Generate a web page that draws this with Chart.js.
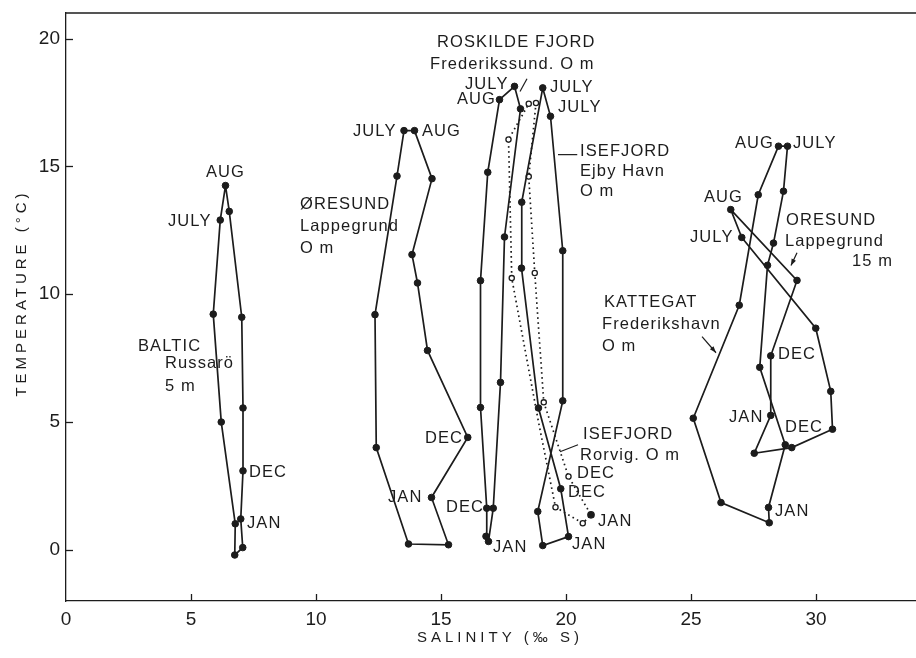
<!DOCTYPE html>
<html>
<head>
<meta charset="utf-8">
<script src="https://cdn.jsdelivr.net/npm/chart.js@4/dist/chart.umd.min.js"></script>
<style>
  html, body { margin: 0; padding: 0; background: #fff; }
  canvas { display: block; }
</style>
</head>
<body>
<canvas id="c" width="916" height="658"></canvas>
<script>
// Annual temperature–salinity cycles at Danish and Baltic stations.
// Each station is traced as a closed path of (salinity ‰, temperature °C) samples.

const balticSal  = [6.38, 6.53, 7.03, 7.08, 7.08, 6.99, 7.07, 6.75, 6.77, 6.21, 5.89, 6.17, 6.38];
const balticTemp = [14.25, 13.24, 9.1, 5.55, 3.09, 1.21, 0.09, -0.2, 1.02, 5.0, 9.22, 12.9, 14.25];

const oresundSal  = [13.52, 13.94, 14.64, 13.84, 14.06, 14.46, 16.07, 14.62, 15.3, 13.7, 12.41, 12.36, 13.24, 13.52];
const oresundTemp = [16.4, 16.4, 14.52, 11.55, 10.44, 7.8, 4.4, 2.05, 0.2, 0.23, 4.0, 9.2, 14.62, 16.4];

const roskildeSal  = [17.34, 17.94, 18.18, 17.54, 17.38, 17.09, 16.9, 16.8, 16.83, 16.58, 16.58, 16.87, 17.34];
const roskildeTemp = [17.61, 18.13, 17.25, 12.24, 6.55, 1.63, 0.33, 0.53, 1.63, 5.57, 10.53, 14.77, 17.61];

const ejbySal  = [19.07, 19.38, 19.87, 19.87, 18.87, 19.07, 20.1, 19.79, 18.9, 18.22, 18.23, 19.07];
const ejbyTemp = [18.07, 16.96, 11.7, 5.83, 1.5, 0.17, 0.52, 2.39, 5.55, 11.02, 13.6, 18.07];

// Rørvig marker kinds: 'o' open circle, 'f' filled dot, '' plain vertex
const rorvigSal    = [18.8, 18.51, 17.7, 17.83, 18.9, 19.58, 20.67, 21.0, 20.1, 19.11, 18.75, 18.51, 18.8];
const rorvigTemp   = [17.48, 17.45, 16.05, 10.63, 5.0, 1.67, 1.04, 1.37, 2.87, 5.77, 10.83, 14.6, 17.48];
const rorvigMarker = ['o', 'o', 'o', 'o', '', 'o', 'o', 'f', 'o', 'o', 'o', 'o', ''];

const kattegatSal  = [28.86, 28.7, 28.3, 28.06, 27.75, 28.77, 28.1, 28.13, 26.2, 25.09, 26.93, 27.69, 28.5, 28.86];
const kattegatTemp = [15.79, 14.03, 12.0, 11.13, 7.14, 4.11, 1.66, 1.06, 1.85, 5.15, 9.57, 13.89, 15.79, 15.79];

const oresund15Sal  = [27.03, 26.59, 29.24, 28.19, 28.19, 27.53, 29.03, 30.66, 30.59, 29.99, 27.03];
const oresund15Temp = [12.22, 13.31, 10.54, 7.59, 5.26, 3.78, 4.0, 4.72, 6.2, 8.67, 12.22];

const xTickValues = [0, 5, 10, 15, 20, 25, 30];
const yTickValues = [0, 5, 10, 15, 20];

const xTitle = 'SALINITY (‰ S)';
const yTitle = 'TEMPERATURE (°C)';

// station names and month tags, anchored in data units (left edge, middle)
const stationLabels = [
  { t: 'AUG', x: 5.6, y: 14.76 }, { t: 'JULY', x: 4.08, y: 12.84 },
  { t: 'BALTIC', x: 2.88, y: 7.95 }, { t: 'Russarö', x: 3.96, y: 7.28 }, { t: '5 m', x: 3.96, y: 6.38 },
  { t: 'DEC', x: 7.32, y: 3.01 }, { t: 'JAN', x: 7.24, y: 1.02 },

  { t: 'JULY', x: 11.48, y: 16.36 }, { t: 'AUG', x: 14.24, y: 16.36 },
  { t: 'ØRESUND', x: 9.36, y: 13.5 }, { t: 'Lappegrund', x: 9.36, y: 12.64 }, { t: 'O m', x: 9.36, y: 11.78 },
  { t: 'DEC', x: 14.36, y: 4.34 }, { t: 'JAN', x: 12.88, y: 2.04 },

  { t: 'ROSKILDE FJORD', x: 14.84, y: 19.84 }, { t: 'Frederikssund. O m', x: 14.56, y: 18.98 },
  { t: 'JULY', x: 15.96, y: 18.2 }, { t: 'AUG', x: 15.64, y: 17.61 },
  { t: 'DEC', x: 15.2, y: 1.64 }, { t: 'JAN', x: 17.08, y: 0.08 },

  { t: 'JULY', x: 19.36, y: 18.08 }, { t: 'JULY', x: 19.68, y: 17.3 },
  { t: 'ISEFJORD', x: 20.56, y: 15.58 }, { t: 'Ejby Havn', x: 20.56, y: 14.79 }, { t: 'O m', x: 20.56, y: 14.01 },
  { t: 'JAN', x: 20.24, y: 0.23 },

  { t: 'ISEFJORD', x: 20.68, y: 4.5 }, { t: 'Rorvig. O m', x: 20.56, y: 3.68 },
  { t: 'DEC', x: 20.44, y: 2.97 }, { t: 'DEC', x: 20.08, y: 2.23 }, { t: 'JAN', x: 21.28, y: 1.1 },

  { t: 'AUG', x: 26.76, y: 15.89 }, { t: 'JULY', x: 29.08, y: 15.89 },
  { t: 'KATTEGAT', x: 21.52, y: 9.67 }, { t: 'Frederikshavn', x: 21.44, y: 8.81 }, { t: 'O m', x: 21.44, y: 7.95 },
  { t: 'DEC', x: 28.48, y: 7.63 }, { t: 'JAN', x: 26.52, y: 5.17 },
  { t: 'DEC', x: 28.76, y: 4.77 }, { t: 'JAN', x: 28.36, y: 1.49 },

  { t: 'AUG', x: 25.52, y: 13.78 }, { t: 'JULY', x: 24.96, y: 12.21 },
  { t: 'ORESUND', x: 28.8, y: 12.88 }, { t: 'Lappegrund', x: 28.76, y: 12.05 }, { t: '15 m', x: 31.44, y: 11.27 }
];

// leader lines from station names to their curves: [x1, y1, x2, y2, arrow]
const leaders = [
  [18.44, 18.43, 18.16, 17.93, false],
  [20.45, 15.46, 19.68, 15.46, false],
  [20.48, 4.11, 19.76, 3.84, false],
  [25.44, 8.34, 26.0, 7.71, true],
  [29.24, 11.62, 29.0, 11.12, true]
];

const ink = '#1c1c1c';
const fontFamily = '"Liberation Sans", Arial, sans-serif';

function toPoints(xs, ys) { return xs.map((v, i) => ({ x: v, y: ys[i] })); }

function stationSet(name, xs, ys, extra) {
  const n = xs.length;
  return Object.assign({
    label: name,
    data: toPoints(xs, ys),
    showLine: true,
    borderColor: ink,
    borderWidth: 1.7,
    pointBackgroundColor: ink,
    pointBorderColor: ink,
    pointBorderWidth: 1,
    pointRadius: xs.map((_, i) => (i === n - 1 ? 0 : 3.3)),
    tension: 0
  }, extra || {});
}

const datasets = [
  stationSet('Baltic, Russarö 5 m', balticSal, balticTemp),
  stationSet('Øresund, Lappegrund 0 m', oresundSal, oresundTemp),
  stationSet('Roskilde Fjord, Frederikssund 0 m', roskildeSal, roskildeTemp),
  stationSet('Isefjord, Ejby Havn 0 m', ejbySal, ejbyTemp),
  stationSet('Isefjord, Rørvig 0 m', rorvigSal, rorvigTemp, {
    borderDash: [1.6, 3.4],
    borderWidth: 1.7,
    pointBackgroundColor: rorvigMarker.map(m => (m === 'f' ? ink : '#fff')),
    pointBorderWidth: 1.3,
    pointRadius: rorvigMarker.map(m => (m === 'f' ? 3.2 : m === 'o' ? 2.6 : 0))
  }),
  stationSet('Kattegat, Frederikshavn 0 m', kattegatSal, kattegatTemp),
  stationSet('Øresund, Lappegrund 15 m', oresund15Sal, oresund15Temp)
];

const decor = {
  id: 'decor',
  afterDraw(chart) {
    const { ctx, chartArea: a, scales: { x, y } } = chart;
    const seg = (x1, y1, x2, y2) => { ctx.beginPath(); ctx.moveTo(x1, y1); ctx.lineTo(x2, y2); ctx.stroke(); };
    ctx.save();
    ctx.strokeStyle = ink;
    ctx.lineWidth = 1.3;
    seg(a.left, a.top, a.right, a.top);

    // inward tick marks
    xTickValues.filter(v => v > 0).forEach(v => {
      const px = Math.round(x.getPixelForValue(v)) + 0.5;
      seg(px, a.bottom, px, a.bottom - 7);
    });
    yTickValues.forEach(v => {
      const py = Math.round(y.getPixelForValue(v)) + 0.5;
      seg(a.left, py, a.left + 7, py);
    });

    // leaders
    ctx.lineWidth = 1.2;
    leaders.forEach(([x1, y1, x2, y2, arrow]) => {
      const p1 = [x.getPixelForValue(x1), y.getPixelForValue(y1)];
      const p2 = [x.getPixelForValue(x2), y.getPixelForValue(y2)];
      seg(p1[0], p1[1], p2[0], p2[1]);
      if (arrow) {
        const ang = Math.atan2(p2[1] - p1[1], p2[0] - p1[0]);
        ctx.beginPath();
        ctx.moveTo(p2[0], p2[1]);
        ctx.lineTo(p2[0] - 7 * Math.cos(ang - 0.35), p2[1] - 7 * Math.sin(ang - 0.35));
        ctx.lineTo(p2[0] - 7 * Math.cos(ang + 0.35), p2[1] - 7 * Math.sin(ang + 0.35));
        ctx.closePath();
        ctx.fillStyle = ink;
        ctx.fill();
      }
    });

    // station labels
    ctx.fillStyle = ink;
    ctx.font = '16.5px ' + fontFamily;
    ctx.letterSpacing = '1.1px';
    ctx.textAlign = 'left';
    ctx.textBaseline = 'middle';
    stationLabels.forEach(l => ctx.fillText(l.t, x.getPixelForValue(l.x), y.getPixelForValue(l.y)));

    // axis titles
    ctx.font = '15px ' + fontFamily;
    ctx.letterSpacing = '4px';
    ctx.textAlign = 'center';
    ctx.fillText(xTitle, 500, 638);
    ctx.save();
    ctx.translate(22, 293);
    ctx.rotate(-Math.PI / 2);
    ctx.fillText(yTitle, 0, 0);
    ctx.restore();
    ctx.restore();
  }
};

new Chart(document.getElementById('c'), {
  type: 'scatter',
  data: { datasets },
  options: {
    responsive: false,
    animation: false,
    layout: { autoPadding: false, padding: { top: 13, right: 0, left: 0, bottom: 0 } },
    plugins: { legend: { display: false }, tooltip: { enabled: false } },
    scales: {
      x: {
        type: 'linear', min: 0, max: 34,
        afterBuildTicks: s => { s.ticks = xTickValues.map(v => ({ value: v })); },
        afterFit: s => { s.height = 57; s.paddingLeft = 0; s.paddingRight = 0; },
        grid: { display: false, drawTicks: false },
        border: { display: true, color: ink, width: 1.3 },
        ticks: { padding: 7, color: ink, font: { family: fontFamily, size: 19 }, maxRotation: 0, autoSkip: false }
      },
      y: {
        type: 'linear', min: -2, max: 21,
        afterBuildTicks: s => { s.ticks = yTickValues.map(v => ({ value: v })); },
        afterFit: s => { s.width = 66; s.paddingTop = 0; s.paddingBottom = 0; },
        grid: { display: false, drawTicks: false },
        border: { display: true, color: ink, width: 1.3 },
        ticks: { padding: 6, color: ink, font: { family: fontFamily, size: 19 }, autoSkip: false }
      }
    }
  },
  plugins: [decor]
});
</script>
</body>
</html>
